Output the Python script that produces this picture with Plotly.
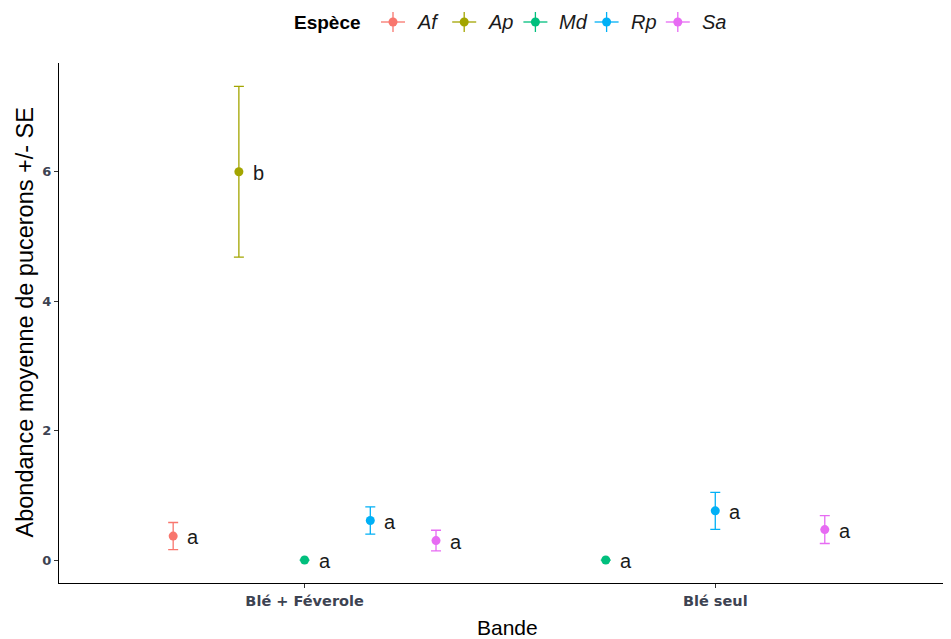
import plotly.graph_objects as go
import math

bandes = ["Blé + Féverole", "Blé seul"]
especes = ["Af", "Ap", "Md", "Rp", "Sa"]
colors = ["#F8766D", "#A3A500", "#00BF7D", "#00B0F6", "#E76BF3"]

# mean abundance per species, per bande (None = absent)
moyenne = {
    "Af": [0.37, None],
    "Ap": [6.0, None],
    "Md": [0.0, 0.0],
    "Rp": [0.61, 0.76],
    "Sa": [0.30, 0.47],
}
se = {
    "Af": [0.21, None],
    "Ap": [1.32, None],
    "Md": [0.0, 0.0],
    "Rp": [0.21, 0.285],
    "Sa": [0.16, 0.215],
}
lettres = {
    "Af": ["a", None],
    "Ap": ["b", None],
    "Md": ["a", "a"],
    "Rp": ["a", "a"],
    "Sa": ["a", "a"],
}
y_ticks = [0, 2, 4, 6]

dodge_width = 0.8

# figure geometry (pixels); page body adds an 8px offset
OFF = 8
W, H = 951, 639
# target plot box in screen pixels: left 59, right 951, top 63, bottom 583
ML = 59 - OFF
MT = 63 - OFF
MR = W - (951 - OFF)
MB = H - (583 - OFF)
PW, PH = W - ML - MR, H - MT - MB


def px_x(p):
    return (p - OFF - ML) / PW


def px_y(p):
    return (H - MB - (p - OFF)) / PH


# compute dodged positions like ggplot position_dodge
xpos = {e: [None, None] for e in especes}
for bi in range(len(bandes)):
    present = [e for e in especes if moyenne[e][bi] is not None]
    n = len(present)
    for k, e in enumerate(present):
        xpos[e][bi] = (bi + 1) + (k - (n - 1) / 2) * dodge_width / n

fig = go.Figure()
annotations = []
shapes = []
for e, c in zip(especes, colors):
    xs = [x if x is not None else math.nan for x in xpos[e]]
    ys = [y if y is not None else math.nan for y in moyenne[e]]
    es = [s if s is not None else math.nan for s in se[e]]
    fig.add_trace(go.Scatter(
        x=xs, y=ys, mode="markers", name=e,
        marker=dict(color=c, size=9),
        error_y=dict(type="data", array=es, visible=True, color=c,
                     thickness=1.3, width=5),
        showlegend=False,
    ))
    for bi in range(len(bandes)):
        if lettres[e][bi] is not None:
            annotations.append(dict(
                x=xpos[e][bi], y=moyenne[e][bi], text=lettres[e][bi],
                xref="x", yref="y", xanchor="left", yanchor="middle",
                xshift=12, yshift=-1, showarrow=False,
                font=dict(family="Liberation Sans, Arial", size=20, color="#1a1a1a"),
            ))

# manual legend (ggplot-like)
LEG_Y = 22
annotations.append(dict(
    x=px_x(292), y=px_y(LEG_Y), xref="paper", yref="paper",
    xanchor="left", yanchor="middle", showarrow=False, text="<b>Espèce</b>",
    font=dict(family="Liberation Sans, Arial", size=19, color="#000000"),
))
for i, (e, c) in enumerate(zip(especes, colors)):
    gx = 393 + i * 71.2
    shapes.append(dict(type="line", xref="paper", yref="paper",
                       xsizemode="pixel", ysizemode="pixel",
                       xanchor=px_x(gx), yanchor=px_y(LEG_Y),
                       x0=-12, x1=12, y0=0, y1=0,
                       line=dict(color=c, width=1.3)))
    shapes.append(dict(type="line", xref="paper", yref="paper",
                       xsizemode="pixel", ysizemode="pixel",
                       xanchor=px_x(gx), yanchor=px_y(LEG_Y),
                       x0=0, x1=0, y0=-10, y1=10,
                       line=dict(color=c, width=1.3)))
    shapes.append(dict(type="circle", xref="paper", yref="paper",
                       xsizemode="pixel", ysizemode="pixel",
                       xanchor=px_x(gx), yanchor=px_y(LEG_Y),
                       x0=-4.5, x1=4.5, y0=-4.5, y1=4.5,
                       fillcolor=c, line=dict(color=c, width=0)))
    annotations.append(dict(
        x=px_x(gx + 22), y=px_y(LEG_Y), xref="paper", yref="paper",
        xanchor="left", yanchor="middle", showarrow=False, text=f"<i>{e}</i>",
        font=dict(family="Liberation Sans, Arial", size=20, color="#1a1a1a"),
    ))

# axis titles
annotations.append(dict(
    x=px_x(24.5), y=px_y(323), xref="paper", yref="paper",
    xanchor="center", yanchor="middle", textangle=-90, showarrow=False,
    text="Abondance moyenne de pucerons +/- SE",
    font=dict(family="Liberation Sans, Arial", size=23.5, color="#000000"),
))
annotations.append(dict(
    x=px_x(507), y=px_y(627), xref="paper", yref="paper",
    xanchor="center", yanchor="middle", showarrow=False,
    text="Bande",
    font=dict(family="Liberation Sans, Arial", size=21, color="#000000"),
))

fig.update_layout(
    width=W, height=H,
    margin=dict(l=ML, r=MR, t=MT, b=MB, autoexpand=False),
    plot_bgcolor="white", paper_bgcolor="white",
    annotations=annotations, shapes=shapes,
    showlegend=False,
)
fig.update_xaxes(
    range=[0.402, 2.574], automargin=False,
    tickmode="array", tickvals=[1, 2], ticktext=bandes,
    showline=True, linecolor="#000000", linewidth=1.2,
    ticks="outside", ticklen=4, tickcolor="#333333",
    showgrid=False, zeroline=False,
    tickfont=dict(family="DejaVu Sans", size=14.5, color="#3d4352", weight="bold"),
)
fig.update_yaxes(
    range=[-0.355, 7.68], automargin=False,
    tickvals=y_ticks,
    showline=True, linecolor="#000000", linewidth=1.2,
    ticks="outside", ticklen=4, tickcolor="#333333",
    showgrid=False, zeroline=False,
    tickfont=dict(family="DejaVu Sans", size=13, color="#3d4352", weight="bold"),
)

fig.write_html("out.html")
